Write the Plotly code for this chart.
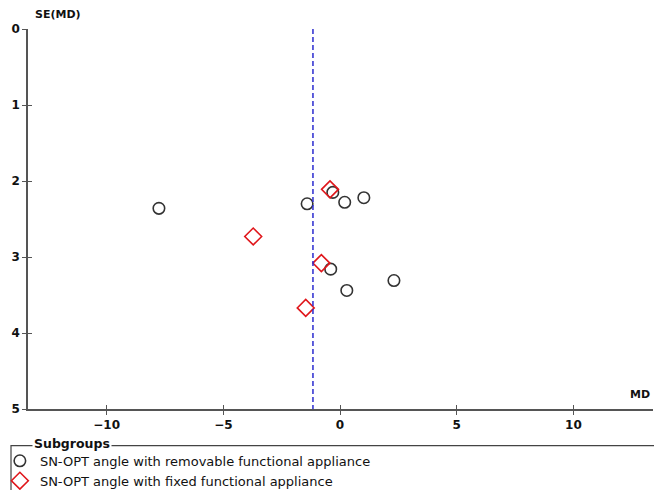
import plotly.graph_objects as go

# Data: mean differences (MD) and standard errors SE(MD)
removable_md = [-7.76, -1.41, -0.31, 0.20, 1.02, -0.40, 0.29, 2.31]
removable_se = [2.36, 2.30, 2.15, 2.28, 2.22, 3.16, 3.44, 3.31]
fixed_md = [-3.72, -0.43, -0.80, -1.47]
fixed_se = [2.73, 2.11, 3.08, 3.67]
pooled_md = -1.16
se_span = [0, 5]
x_ticks = [-10, -5, 0, 5, 10]
x_tick_labels = ["\u221210", "\u22125", "0", "5", "10"]
y_ticks = [0, 1, 2, 3, 4, 5]
series_names = ["SN-OPT angle with removable functional appliance",
                "SN-OPT angle with fixed functional appliance"]

AX = "#555555"
TICKFONT = dict(family="DejaVu Sans", size=12, color="#111111", weight="bold")

fig = go.Figure()
fig.add_trace(go.Scatter(
    x=removable_md, y=removable_se, mode="markers", name=series_names[0],
    marker=dict(symbol="circle-open", size=11.5, color="#333333", line=dict(width=1.6)),
))
fig.add_trace(go.Scatter(
    x=fixed_md, y=fixed_se, mode="markers", name=series_names[1],
    marker=dict(symbol="diamond-open", size=13, color="#e0161b", line=dict(width=1.6)),
))
fig.add_trace(go.Scatter(
    x=[pooled_md, pooled_md], y=se_span, mode="lines", showlegend=False,
    line=dict(color="#2b2bd0", width=1.5, dash="5px,3px"),
    xaxis="x2", yaxis="y2", hoverinfo="skip",
))

xr = [-13.37, 13.41]
yr = [5, 0]

fig.update_layout(
    width=654, height=490,
    margin=dict(l=28, r=1, t=29, b=81, autoexpand=False),
    paper_bgcolor="white", plot_bgcolor="white",
    showlegend=True,
    xaxis=dict(range=xr, tickvals=x_ticks, ticktext=x_tick_labels,
               showgrid=False, zeroline=False, showline=True, linecolor=AX, linewidth=1.5,
               ticks="outside", ticklen=4, tickcolor=AX, tickwidth=1.2,
               tickfont=TICKFONT, anchor="y", automargin=False),
    xaxis2=dict(range=xr, overlaying="x", anchor="y", side="bottom", tickvals=x_ticks,
                showticklabels=False, showgrid=False, zeroline=False, showline=False,
                ticks="inside", ticklen=4, tickcolor=AX, tickwidth=1.2),
    yaxis=dict(range=yr, tickvals=y_ticks, showgrid=False, zeroline=False,
               showline=True, linecolor=AX, linewidth=1.5,
               ticks="outside", ticklen=4, tickcolor=AX, tickwidth=1.2,
               tickfont=TICKFONT, anchor="x", automargin=False),
    yaxis2=dict(range=yr, overlaying="y", anchor="x", side="left", tickvals=y_ticks,
                showticklabels=False, showgrid=False, zeroline=False, showline=False,
                ticks="inside", ticklen=4, tickcolor=AX, tickwidth=1.2),
    legend=dict(x=-0.045, y=-0.097, xanchor="left", yanchor="top",
                bgcolor="rgba(0,0,0,0)", borderwidth=0, tracegroupgap=0,
                font=dict(family="DejaVu Sans", size=13, color="#111111"),
                itemwidth=30),
    shapes=[dict(type="rect", xref="paper", yref="paper",
                 x0=-0.0272, x1=1.05, y0=-0.0963, y1=-0.3,
                 line=dict(color="#444444", width=1.2), fillcolor="rgba(0,0,0,0)")],
    annotations=[
        dict(text="<b>SE(MD)</b>", xref="paper", yref="paper", x=0, y=1,
             xanchor="left", yanchor="middle", xshift=5, yshift=15, showarrow=False,
             font=dict(family="DejaVu Sans", size=11, color="#111111")),
        dict(text="<b>MD</b>", xref="paper", yref="paper", x=1, y=0,
             xanchor="right", yanchor="bottom", xshift=-1, yshift=6, showarrow=False,
             font=dict(family="DejaVu Sans", size=11, color="#111111")),
        dict(text="<b>Subgroups</b>", xref="paper", yref="paper", x=-0.0272, y=-0.0963,
             xanchor="left", yanchor="middle", xshift=21, yshift=2, showarrow=False,
             bgcolor="white", borderpad=1,
             font=dict(family="DejaVu Sans", size=12.5, color="#111111")),
    ],
)

fig.write_html("out.html", config={"displayModeBar": False},
               post_script="document.body.style.margin='0';document.body.style.overflow='hidden';")
